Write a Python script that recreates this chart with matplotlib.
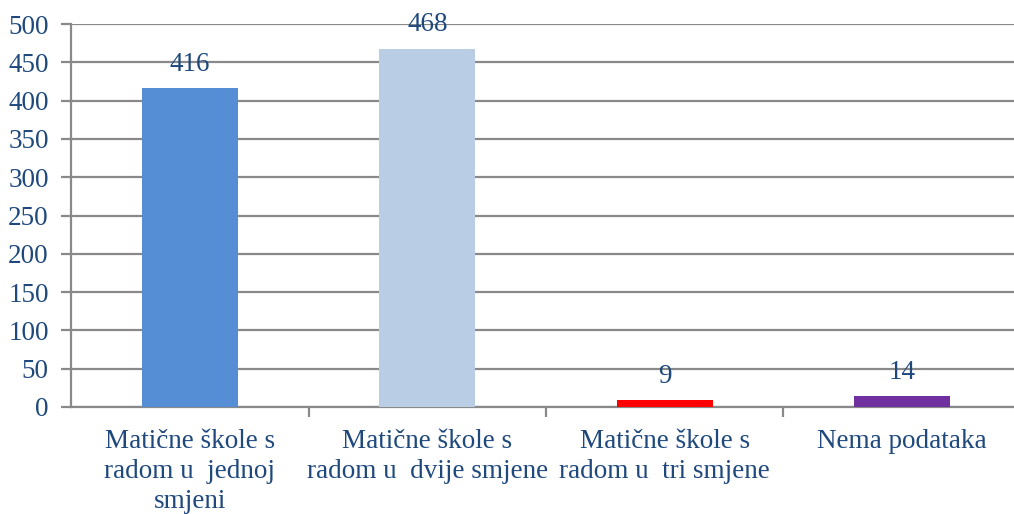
import matplotlib
matplotlib.use('Agg')
import matplotlib.pyplot as plt
import numpy as np

categories = ['Matične škole s\nradom u  jednoj\nsmjeni',
              'Matične škole s\nradom u  dvije smjene',
              'Matične škole s\nradom u  tri smjene',
              'Nema podataka']
values = [416, 468, 9, 14]
colors = ['#558ED5', '#B9CDE5', '#FF0000', '#7030A0']

textColor = '#1F497D'
gridColor = '#898989'
fs = 19.5

plt.rcParams['font.family'] = ['Liberation Serif', 'DejaVu Serif']

fig = plt.figure(figsize=(10.14, 5.14), dpi=100)
ax = fig.add_axes([71/1014, 107/514, 950/1014, 383/514])

x = np.arange(len(values))
bars = ax.bar(x, values, 0.405, color=colors, zorder=3)
for xi, v in zip(x, values):
    ax.annotate(str(v), (xi, v), xytext=(0, 8), textcoords='offset points',
                ha='center', va='bottom', fontsize=fs, color=textColor)

ax.set_xlim(-0.5, 3.5)
ax.set_ylim(0, 500)
ax.set_yticks(np.arange(0, 501, 50))
ax.yaxis.grid(True, color=gridColor, linewidth=1.6, zorder=0)
ax.set_axisbelow(True)

ax.set_xticks(x)
ax.set_xticklabels(categories, linespacing=1.26)
ax.set_xticks([0.5, 1.5, 2.5], minor=True)
ax.tick_params(axis='x', which='major', length=0, pad=16, labelsize=fs, labelcolor=textColor)
ax.tick_params(axis='x', which='minor', length=7, width=1.6, color=gridColor, direction='out')
ax.tick_params(axis='y', length=7, width=1.6, color=gridColor, pad=9, labelsize=fs, labelcolor=textColor)

for s in ['top', 'right']:
    ax.spines[s].set_visible(False)
for s in ['left', 'bottom']:
    ax.spines[s].set_color(gridColor)
    ax.spines[s].set_linewidth(1.6)

fig.savefig('out.png', dpi=100)
